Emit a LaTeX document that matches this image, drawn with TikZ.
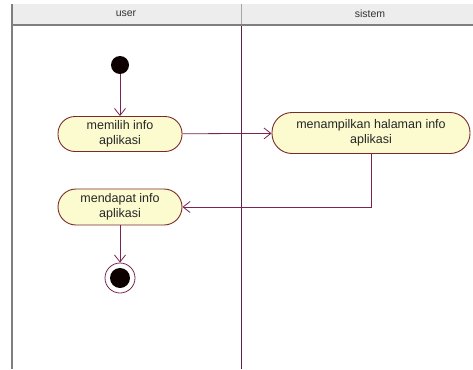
\documentclass[tikz,border=0pt]{standalone}
\usepackage{fontspec}
\setmainfont{Liberation Sans}
\usetikzlibrary{arrows.meta}
\definecolor{lanehead}{HTML}{EDEDED}
\definecolor{laneline}{HTML}{7F7F7F}
\definecolor{divider}{HTML}{5E2342}
\definecolor{flow}{HTML}{7A2550}
\definecolor{actfill}{HTML}{FCFBD0}
\definecolor{actdraw}{HTML}{7A2A2A}
\begin{document}
\begin{tikzpicture}[x=1pt,y=-1pt,
  action/.style={draw=actdraw, fill=actfill, line width=0.9pt,
    rounded corners=17pt, minimum width=124pt, minimum height=35pt,
    align=center, inner sep=0pt, text=black!85,
    font=\fontsize{12.5}{15}\selectfont},
  lanetitle/.style={font=\fontsize{10.5}{12}\selectfont, text=black!80},
  flowline/.style={draw=flow, line width=0.8pt,
    -{Straight Barb[length=7pt,width=11pt]}},
  startnode/.style={circle, fill=black!95!red, minimum size=18pt, inner sep=0pt},
  endring/.style={circle, draw=flow, fill=white, line width=0.8pt, minimum size=30pt, inner sep=0pt},
  enddot/.style={circle, fill=black!95!red, minimum size=20pt, inner sep=0pt}]
  \useasboundingbox (0,0) rectangle (473,369);
  % swimlane header band
  \fill[lanehead] (12,4) rectangle (473,24);
  \draw[laneline, line width=2pt] (12,25) -- (473,25);
  \draw[laneline, line width=1.5pt] (12,4) -- (12,369);
  \draw[laneline!70, line width=1pt] (241,4) -- (241,24);
  \draw[divider, line width=1pt] (241,26) -- (241,369);
  \node[lanetitle] (laneuser) at (126,14) {user};
  \node[lanetitle] (lanesistem) at (370,14) {sistem};
  % activity nodes
  \node[startnode] (start) at (120,65) {};
  \node[action] (memilih) at (120,134) {memilih info\\aplikasi};
  \node[action, minimum width=198pt, minimum height=41pt, rounded corners=20pt]
    (menampilkan) at (371,133) {menampilkan halaman info\\aplikasi};
  \node[action, minimum height=36pt, rounded corners=18pt]
    (mendapat) at (120,207) {mendapat info\\aplikasi};
  \node[endring] (finish) at (120,278) {};
  \node[enddot] (finishdot) at (finish) {};
  % control flow
  \draw[flowline] (start) -- (memilih);
  \draw[flowline] (memilih) -- (menampilkan);
  \draw[flowline] (menampilkan.south) |- (mendapat.east);
  \draw[flowline] (mendapat) -- (finish);
\end{tikzpicture}
\end{document}
